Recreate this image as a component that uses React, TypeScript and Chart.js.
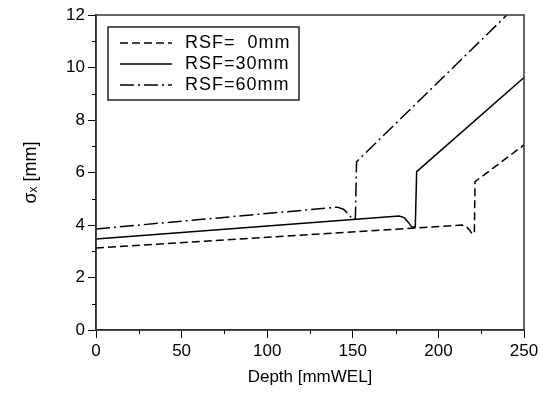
import React, { useEffect, useRef } from "react";
import { Chart, registerables } from "chart.js";

Chart.register(...registerables);

// RSF = 0 mm (dashed)
const depth0 = [0, 214, 216.5, 218.5, 219.8, 221, 221.4, 250];
const sigma0 = [3.12, 4.0, 3.93, 3.78, 3.65, 3.7, 5.65, 7.05];
// RSF = 30 mm (solid)
const depth30 = [0, 177, 180, 182.5, 184.5, 186.5, 187.3, 250];
const sigma30 = [3.47, 4.34, 4.28, 4.1, 3.92, 3.92, 6.03, 9.62];
// RSF = 60 mm (dash-dot)
const depth60 = [0, 141, 144.5, 147.5, 150, 151.5, 152.2, 240];
const sigma60 = [3.85, 4.68, 4.6, 4.42, 4.2, 4.23, 6.41, 12];

const seriesLabels = ["RSF=  0mm", "RSF=30mm", "RSF=60mm"];
const seriesDashes = [[8, 4], [], [14, 4, 2, 4]];

const xMinorTicks = [25, 75, 125, 175, 225];
const yMinorTicks = [1, 3, 5, 7, 9, 11];

const FONT = "'Liberation Sans', Arial, sans-serif";

const toPoints = (xs: number[], ys: number[]) => xs.map((x, i) => ({ x, y: ys[i] }));

const framePlugin = {
  id: "frameAndLegend",
  afterDraw(chart: any) {
    const { ctx, chartArea } = chart;
    const xs = chart.scales.x;
    const ys = chart.scales.y;
    ctx.save();
    // frame
    ctx.strokeStyle = "#333";
    ctx.lineWidth = 1.5;
    ctx.setLineDash([]);
    ctx.strokeRect(chartArea.left, chartArea.top, chartArea.right - chartArea.left, chartArea.bottom - chartArea.top);
    // minor ticks
    ctx.lineWidth = 1;
    ctx.strokeStyle = "#000";
    ctx.beginPath();
    xMinorTicks.forEach((v) => {
      const px = Math.round(xs.getPixelForValue(v)) + 0.5;
      ctx.moveTo(px, chartArea.bottom);
      ctx.lineTo(px, chartArea.bottom + 4);
    });
    yMinorTicks.forEach((v) => {
      const py = Math.round(ys.getPixelForValue(v)) + 0.5;
      ctx.moveTo(chartArea.left, py);
      ctx.lineTo(chartArea.left - 4, py);
    });
    ctx.stroke();
    // legend
    const bx = chartArea.left + 12;
    const by = chartArea.top + 12;
    const bw = 191;
    const bh = 73;
    ctx.fillStyle = "#fff";
    ctx.fillRect(bx, by, bw, bh);
    ctx.strokeStyle = "#222";
    ctx.lineWidth = 1.5;
    ctx.strokeRect(bx, by, bw, bh);
    ctx.font = `18px ${FONT}`;
    try { (ctx as any).letterSpacing = "1px"; } catch (e) {}
    ctx.textBaseline = "middle";
    ctx.textAlign = "left";
    ctx.fillStyle = "#000";
    seriesLabels.forEach((label, i) => {
      const cy = by + 16 + i * 21;
      ctx.strokeStyle = "#000";
      ctx.lineWidth = 1.5;
      ctx.setLineDash(seriesDashes[i]);
      ctx.beginPath();
      ctx.moveTo(bx + 12, cy);
      ctx.lineTo(bx + 64, cy);
      ctx.stroke();
      ctx.setLineDash([]);
      ctx.fillText(label, bx + 77, cy);
    });
    ctx.restore();
  },
};

export default function App() {
  const ref = useRef<HTMLCanvasElement | null>(null);
  useEffect(() => {
    if (!ref.current) return;
    const mk = (label: string, xs: number[], ys: number[], dash: number[]) => ({
      label,
      data: toPoints(xs, ys),
      borderColor: "#000",
      borderWidth: 1.5,
      borderDash: dash,
      pointRadius: 0,
      tension: 0,
      fill: false,
    });
    const chart = new Chart(ref.current, {
      type: "line",
      data: {
        datasets: [
          mk(seriesLabels[0], depth0, sigma0, seriesDashes[0]),
          mk(seriesLabels[1], depth30, sigma30, seriesDashes[1]),
          mk(seriesLabels[2], depth60, sigma60, seriesDashes[2]),
        ],
      },
      options: {
        animation: false,
        responsive: false,
        maintainAspectRatio: false,
        layout: { padding: { top: 15, right: 26, left: 0, bottom: 0 } },
        plugins: { legend: { display: false }, tooltip: { enabled: false } },
        scales: {
          x: {
            type: "linear",
            min: 0,
            max: 250,
            ticks: { stepSize: 50, color: "#000", font: { family: FONT, size: 17 }, maxRotation: 0 },
            grid: { drawOnChartArea: false, drawTicks: true, tickLength: 8, color: "#000" },
            border: { display: true, color: "#333", width: 1.5 },
            title: { display: true, text: "Depth [mmWEL]", color: "#000", font: { family: FONT, size: 17 }, padding: { top: 0, bottom: 12 } },
            afterFit: (s: any) => { s.height = 70; },
          },
          y: {
            min: 0,
            max: 12,
            ticks: { stepSize: 2, color: "#000", font: { family: FONT, size: 17 } },
            grid: { drawOnChartArea: false, drawTicks: true, tickLength: 8, color: "#000" },
            border: { display: true, color: "#333", width: 1.5 },
            title: { display: true, text: "σₓ [mm]", color: "#000", font: { family: FONT, size: 18 }, padding: { top: 20, bottom: 0 } },
            afterFit: (s: any) => { s.width = 96; },
          },
        },
      },
      plugins: [framePlugin],
    } as any);
    return () => chart.destroy();
  }, []);
  return (
    <div style={{ position: "fixed", left: 0, top: 0, width: 550, height: 400, background: "#fff" }}>
      <canvas ref={ref} width={550} height={400} style={{ width: 550, height: 400 }} />
    </div>
  );
}
